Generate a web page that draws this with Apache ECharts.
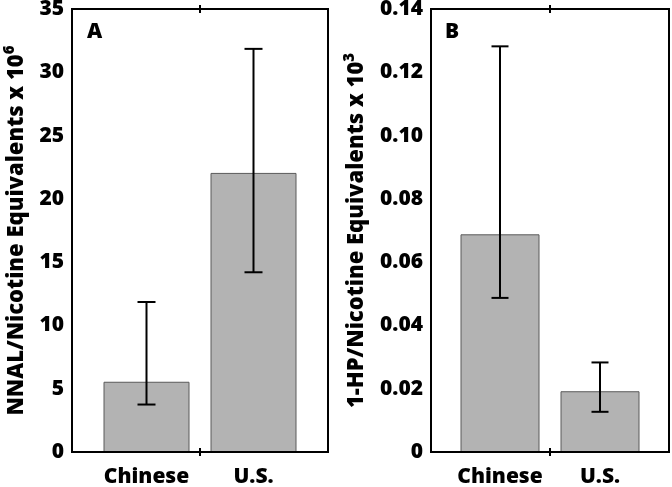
<!DOCTYPE html>
<html>
<head>
<meta charset="utf-8">
<script src="https://cdn.jsdelivr.net/npm/echarts@6/dist/echarts.min.js"></script>
<style>
html,body{margin:0;padding:0;background:#fff;}
#chart{width:672px;height:487px;}
</style>
</head>
<body>
<div id="chart"></div>
<script>
// ---- data ----
const categories = ['Chinese', 'U.S.'];
const nnalMean = [5.55, 22.05];
const nnalLow = [3.75, 14.2];
const nnalHigh = [11.85, 31.85];
const hpMean = [0.0688, 0.0192];
const hpLow = [0.0487, 0.0127];
const hpHigh = [0.1282, 0.0283];
const nnalAxis = { min: 0, max: 35, interval: 5 };
const hpAxis = { min: 0, max: 0.14, interval: 0.02 };
const panelLetters = ['A', 'B'];

const FONT = 'Open Sans';
const WEIGHT = 800;
const chart = echarts.init(document.getElementById('chart'), null, { renderer: 'canvas' });

function errData(lo, hi) {
  return categories.map((c, i) => [i, lo[i], hi[i]]);
}
function errRender(capHalf) {
  return function (params, api) {
    const x = api.value(0);
    const pLo = api.coord([x, api.value(1)]);
    const pHi = api.coord([x, api.value(2)]);
    const st = { stroke: '#000', lineWidth: 2 };
    return {
      type: 'group',
      children: [
        { type: 'line', shape: { x1: pLo[0], y1: pLo[1], x2: pHi[0], y2: pHi[1] }, style: st },
        { type: 'line', shape: { x1: pLo[0] - capHalf, y1: pLo[1], x2: pLo[0] + capHalf, y2: pLo[1] }, style: st },
        { type: 'line', shape: { x1: pHi[0] - capHalf, y1: pHi[1], x2: pHi[0] + capHalf, y2: pHi[1] }, style: st }
      ]
    };
  };
}

const labelStyle = { color: '#000', fontFamily: FONT, fontWeight: WEIGHT, fontSize: 21 };

function frameX(gridIndex, position, inside) {
  return {
    gridIndex, type: 'value', min: 0, max: 2, interval: 1, position,
    axisLine: { show: false },
    axisTick: { show: true, inside, length: 4, customValues: [1], lineStyle: { color: '#000', width: 2 } },
    axisLabel: { show: false }, splitLine: { show: false }
  };
}
function innerX(gridIndex) {
  return {
    gridIndex, type: 'category', data: categories,
    axisLine: { show: false }, axisTick: { show: false }, splitLine: { show: false },
    axisLabel: Object.assign({ margin: 15, interval: 0 }, labelStyle)
  };
}
function frameY(gridIndex, ax, fmt, nameMain, sup, gap) {
  return {
    gridIndex, type: 'value', min: ax.min, max: ax.max, interval: ax.interval,
    axisLine: { show: false }, axisTick: { show: false }, splitLine: { show: false },
    axisLabel: Object.assign({ margin: 8, formatter: fmt }, labelStyle),
    name: '{a|' + nameMain + '}{s|' + sup + '}',
    nameLocation: 'middle', nameRotate: 90, nameGap: gap,
    nameTextStyle: {
      rich: {
        a: { fontFamily: FONT, fontWeight: WEIGHT, fontSize: 22, color: '#000', lineHeight: 26, padding: [14, 0, 0, 0], verticalAlign: 'bottom' },
        s: { fontFamily: FONT, fontWeight: WEIGHT, fontSize: 15, color: '#000', lineHeight: 16, verticalAlign: 'top' }
      }
    }
  };
}
function innerY(gridIndex, ax) {
  return { gridIndex, type: 'value', min: ax.min, max: ax.max, show: false, splitLine: { show: false } };
}

const barStyle = { color: '#b3b3b3', borderColor: '#5a5a5a', borderWidth: 1 };
const gridBase = { top: 9, height: 443, containLabel: false, outerBoundsMode: 'none' };

const option = {
  backgroundColor: '#fff',
  animation: false,
  grid: [
    Object.assign({ left: 72, width: 256, show: true, borderColor: '#000', borderWidth: 2, backgroundColor: 'transparent', z: 5 }, gridBase),
    Object.assign({ left: 93, width: 214 }, gridBase),
    Object.assign({ left: 431, width: 238, show: true, borderColor: '#000', borderWidth: 2, backgroundColor: 'transparent', z: 5 }, gridBase),
    Object.assign({ left: 450, width: 200 }, gridBase)
  ],
  xAxis: [
    frameX(0, 'bottom', false), frameX(0, 'bottom', true), frameX(0, 'top', false), frameX(0, 'top', true),
    innerX(1),
    frameX(2, 'bottom', false), frameX(2, 'bottom', true), frameX(2, 'top', false), frameX(2, 'top', true),
    innerX(3)
  ],
  yAxis: [
    frameY(0, nnalAxis, v => String(v), 'NNAL/Nicotine Equivalents x 10', '6', 44),
    innerY(1, nnalAxis),
    frameY(2, hpAxis, v => (v === 0 ? '0' : v.toFixed(2)), '1-HP/Nicotine Equivalents x 10', '3', 63),
    innerY(3, hpAxis)
  ],
  graphic: [
    { type: 'text', left: 87, top: 22, style: { text: panelLetters[0], font: '800 21px "Open Sans"', fill: '#000' } },
    { type: 'text', left: 445, top: 22, style: { text: panelLetters[1], font: '800 21px "Open Sans"', fill: '#000' } }
  ],
  series: [
    { type: 'bar', xAxisIndex: 4, yAxisIndex: 1, data: nnalMean, barWidth: 86, itemStyle: barStyle },
    { type: 'custom', xAxisIndex: 4, yAxisIndex: 1, data: errData(nnalLow, nnalHigh), renderItem: errRender(9), z: 10 },
    { type: 'bar', xAxisIndex: 9, yAxisIndex: 3, data: hpMean, barWidth: 79, itemStyle: barStyle },
    { type: 'custom', xAxisIndex: 9, yAxisIndex: 3, data: errData(hpLow, hpHigh), renderItem: errRender(8.5), z: 10 }
  ]
};
chart.setOption(option);
</script>
</body>
</html>
